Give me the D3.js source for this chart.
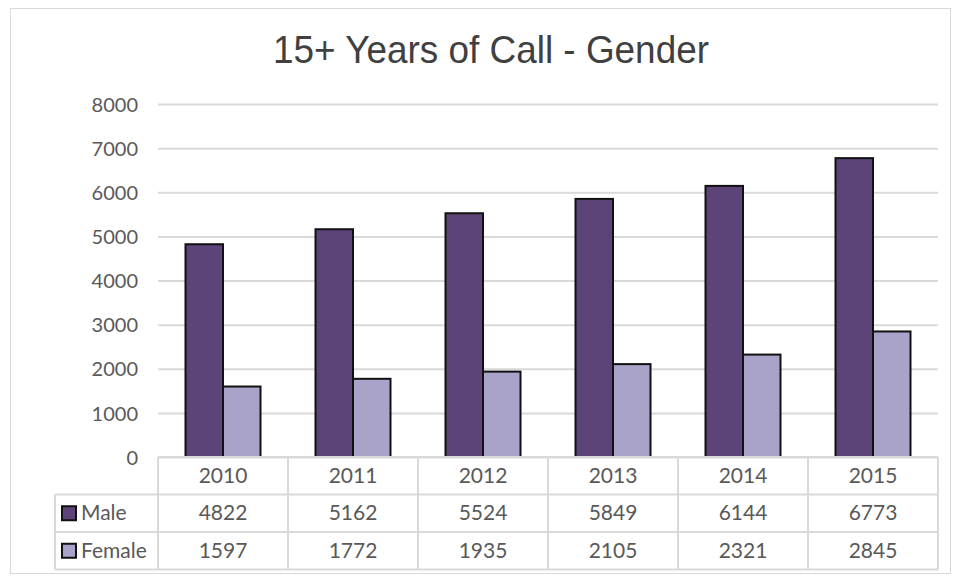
<!DOCTYPE html>
<html>
<head>
<meta charset="utf-8">
<script src="https://cdn.jsdelivr.net/npm/d3@7"></script>
<style>
  body { margin: 0; background: #fff; }
  svg { display: block; }
</style>
</head>
<body>
<div id="chart"><svg></svg></div>
<script>
// chart data
var years = ["2010", "2011", "2012", "2013", "2014", "2015"];
var male = [4822, 5162, 5524, 5849, 6144, 6773];
var female = [1597, 1772, 1935, 2105, 2321, 2845];
var seriesNames = ["Male", "Female"];
var seriesColors = ["#5c4479", "#a9a3c9"];
var yTicks = [0, 1000, 2000, 3000, 4000, 5000, 6000, 7000, 8000];

var W = 954, H = 577;
var margin = {top: 104, right: 16, bottom: 120, left: 158},
    width = W - margin.left - margin.right,
    height = H - margin.top - margin.bottom;

var svg = d3.select("#chart").select("svg")
    .attr("width", W)
    .attr("height", H);

// outer chart border
svg.append("rect")
    .attr("x", 10.5).attr("y", 8.5)
    .attr("width", W - 14).attr("height", H - 12)
    .attr("fill", "#fff")
    .attr("stroke", "#d9d9d9");

// title (narrow face squeezed to fit)
svg.append("text")
    .attr("x", 273).attr("y", 63)
    .attr("textLength", 436)
    .attr("lengthAdjust", "spacingAndGlyphs")
    .style("font-family", "'Liberation Sans', Arial, sans-serif")
    .style("font-size", "39px")
    .style("fill", "#404040")
    .text("15+ Years of Call - Gender");

var g = svg.append("g")
    .attr("transform", "translate(" + margin.left + "," + margin.top + ")");

var x = d3.scaleBand().domain(years).range([0, width]);
var x1 = d3.scaleBand().domain(seriesNames).range([0, 75]);
var y = d3.scaleLinear().domain([0, 8000]).range([height, 0]);

var fontTable = "Lato, 'Open Sans', sans-serif";
var textCol = "#595959";

// gridlines + y labels
var yAxis = g.append("g")
    .call(d3.axisLeft(y).tickValues(yTicks).tickSize(-width).tickPadding(20)
        .tickFormat(d3.format("d")))
    .call(function (s) { s.select(".domain").remove(); });
yAxis.selectAll(".tick line").attr("stroke", "#d9d9d9").attr("stroke-width", 2);
yAxis.selectAll(".tick text")
    .attr("dy", "0.36em")
    .style("font-family", fontTable)
    .style("font-size", "20px")
    .style("fill", textCol);

// bars
var values = [male, female];
years.forEach(function (yr, i) {
    var offset = x(yr) + (x.bandwidth() - 75) / 2;
    seriesNames.forEach(function (s, j) {
        g.append("rect")
            .attr("x", offset + x1(s))
            .attr("y", y(values[j][i]))
            .attr("width", x1.bandwidth())
            .attr("height", height - y(values[j][i]))
            .attr("fill", seriesColors[j])
            .attr("stroke", "#111")
            .attr("stroke-width", 2);
    });
});

// data table
var rowH = 37.5;
var tableLeft = 55 - margin.left;
var tg = g.append("g").attr("transform", "translate(0," + height + ")");
var lineCol = "#d9d9d9";

// horizontal lines
tg.append("line").attr("x1", 0).attr("x2", width).attr("y1", 0).attr("y2", 0)
    .attr("stroke", lineCol).attr("stroke-width", 2);
[1, 2, 3].forEach(function (r) {
    tg.append("line").attr("x1", tableLeft).attr("x2", width)
        .attr("y1", r * rowH).attr("y2", r * rowH)
        .attr("stroke", lineCol).attr("stroke-width", 2);
});
// vertical lines
tg.append("line").attr("x1", tableLeft).attr("x2", tableLeft)
    .attr("y1", rowH).attr("y2", 3 * rowH)
    .attr("stroke", lineCol).attr("stroke-width", 2);
years.concat(["end"]).forEach(function (yr, i) {
    var xx = i < years.length ? x(yr) : width;
    tg.append("line").attr("x1", xx).attr("x2", xx)
        .attr("y1", 0).attr("y2", 3 * rowH)
        .attr("stroke", lineCol).attr("stroke-width", 2);
});

// header years
years.forEach(function (yr) {
    tg.append("text")
        .attr("x", x(yr) + x.bandwidth() / 2)
        .attr("y", rowH / 2 + 7)
        .attr("text-anchor", "middle")
        .style("font-family", fontTable).style("font-size", "21px").style("fill", textCol)
        .text(yr);
});

// series rows
seriesNames.forEach(function (s, j) {
    var cy = (j + 1) * rowH + rowH / 2;
    tg.append("rect")
        .attr("x", tableLeft + 7).attr("y", cy - 7)
        .attr("width", 14).attr("height", 14)
        .attr("fill", seriesColors[j])
        .attr("stroke", "#111").attr("stroke-width", 2);
    tg.append("text")
        .attr("x", tableLeft + 26).attr("y", cy + 7)
        .style("font-family", fontTable).style("font-size", "21px").style("fill", textCol)
        .text(s);
    years.forEach(function (yr, i) {
        tg.append("text")
            .attr("x", x(yr) + x.bandwidth() / 2)
            .attr("y", cy + 7)
            .attr("text-anchor", "middle")
            .style("font-family", fontTable).style("font-size", "21px").style("fill", textCol)
            .text(values[j][i]);
    });
});
</script>
</body>
</html>
